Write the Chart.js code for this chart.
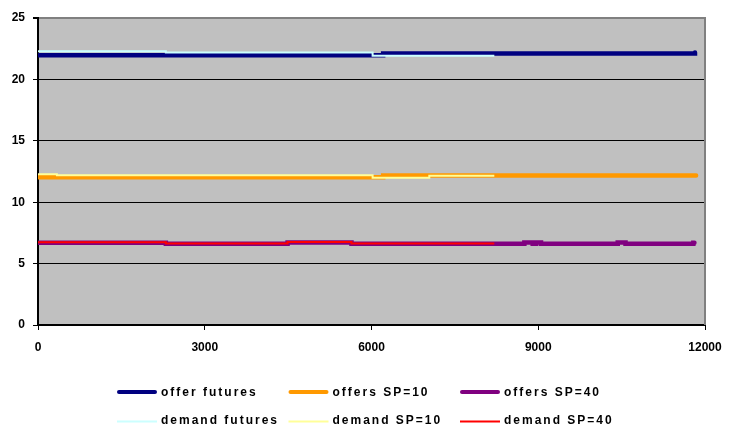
<!DOCTYPE html>
<html>
<head>
<meta charset="utf-8">
<script src="https://cdn.jsdelivr.net/npm/chart.js@4/dist/chart.umd.min.js"></script>
<style>
  html, body { margin: 0; padding: 0; background: #ffffff; }
  canvas { display: block; }
</style>
</head>
<body>
<canvas id="c" width="729" height="431"></canvas>
<script>
// Step series: each [x, y] pair holds its value until the next pair's x.
const offerFutures  = [[0, 21.96], [6210, 22.11], [11780, 22.11], [11820, 22.2]];
const offersSP10    = [[0, 12.04], [6210, 12.17], [11840, 12.17]];
const offersSP40    = [[0, 6.70], [2300, 6.62], [4490, 6.71], [5640, 6.62], [8750, 6.72], [8900, 6.62],
                       [8960, 6.72], [9050, 6.62], [10430, 6.72], [10570, 6.62], [11790, 6.69], [11810, 6.69]];
const demandFutures = [[0, 22.3], [2300, 22.19], [6020, 21.92], [8210, 21.92]];
const demandSP10    = [[0, 12.27], [340, 12.2], [6020, 12.0], [7040, 12.15], [8210, 12.15]];
const demandSP40    = [[0, 6.74], [2300, 6.64], [4490, 6.75], [5640, 6.64], [8210, 6.64]];

const seriesNames = ['offer futures', 'offers SP=10', 'offers SP=40',
                     'demand futures', 'demand SP=10', 'demand SP=40'];

const xTicks = [0, 3000, 6000, 9000, 12000];
const yTicks = [0, 5, 10, 15, 20, 25];

const toPoints = arr => arr.map(([x, y]) => ({ x, y }));

function series(name, data, color, width, isOffer) {
  return {
    label: name,
    data: toPoints(data),
    borderColor: color,
    backgroundColor: color,
    borderWidth: width,
    borderCapStyle: isOffer ? 'round' : 'butt',
    stepped: true,
    pointRadius: 0,
    fill: false,
    order: isOffer ? 1 : 0
  };
}

const datasets = [
  series(seriesNames[0], offerFutures,  '#000080', 4.5, true),
  series(seriesNames[1], offersSP10,    '#FF9900', 4.5, true),
  series(seriesNames[2], offersSP40,    '#800080', 4.5, true),
  series(seriesNames[3], demandFutures, '#CCFFFF', 2, false),
  series(seriesNames[4], demandSP10,    '#FFFF99', 2, false),
  series(seriesNames[5], demandSP40,    '#FF0000', 2, false)
];

const FONT = '"Liberation Sans", Arial, sans-serif';

// Grey plot background plus the grey right-hand frame edge
const plotFrame = {
  id: 'plotFrame',
  beforeDraw(chart) {
    const { ctx, chartArea: a } = chart;
    ctx.save();
    ctx.fillStyle = '#ffffff';
    ctx.fillRect(0, 0, chart.width, chart.height);
    ctx.fillStyle = '#C0C0C0';
    ctx.fillRect(a.left, a.top, a.right - a.left, a.bottom - a.top);
    ctx.restore();
  },
  beforeDatasetsDraw(chart) {
    const { ctx, chartArea: a } = chart;
    ctx.save();
    ctx.strokeStyle = '#808080';
    ctx.lineWidth = 2;
    ctx.beginPath();
    ctx.moveTo(a.right, a.top - 1);
    ctx.lineTo(a.right, a.bottom);
    ctx.stroke();
    ctx.restore();
  }
};

// Legend laid out as a 3-column grid under the axis
const gridLegend = {
  id: 'gridLegend',
  afterDraw(chart) {
    const ctx = chart.ctx;
    ctx.save();
    ctx.font = 'bold 12px ' + FONT;
    if ('letterSpacing' in ctx) ctx.letterSpacing = '2px';
    ctx.textAlign = 'left';
    ctx.textBaseline = 'alphabetic';
    chart.data.datasets.forEach((ds, i) => {
      const col = i % 3, row = Math.floor(i / 3);
      const x0 = 117 + col * 171.5;
      const yLine = row ? 421.5 : 392;
      const yText = row ? 424 : 396;
      ctx.strokeStyle = ds.borderColor;
      ctx.lineWidth = ds.order ? 4 : 2;
      ctx.lineCap = ds.borderCapStyle;
      ctx.beginPath();
      ctx.moveTo(x0 + (ds.order ? 2 : 0), yLine);
      ctx.lineTo(x0 + 40 - (ds.order ? 2 : 0), yLine);
      ctx.stroke();
      ctx.fillStyle = '#000000';
      ctx.fillText(ds.label, x0 + 44, yText);
    });
    ctx.restore();
  }
};

new Chart(document.getElementById('c'), {
  type: 'line',
  data: { datasets },
  plugins: [plotFrame, gridLegend],
  options: {
    responsive: false,
    animation: false,
    events: [],
    layout: { padding: { left: 0, right: 24, top: 18, bottom: 0 } },
    plugins: { legend: { display: false }, tooltip: { enabled: false } },
    scales: {
      x: {
        type: 'linear',
        min: 0,
        max: 12000,
        afterBuildTicks: s => { s.ticks = xTicks.map(v => ({ value: v })); },
        afterFit: s => { s.height = 106; s.paddingLeft = 0; s.paddingRight = 0; },
        ticks: {
          color: '#000000',
          font: { family: FONT, size: 12, weight: 'bold' },
          padding: 10,
          maxRotation: 0,
          autoSkip: false,
          callback: v => String(v)
        },
        grid: { drawOnChartArea: false, tickLength: 5, color: '#000000', lineWidth: 1 },
        border: { color: '#000000', width: 2 }
      },
      y: {
        min: 0,
        max: 25,
        afterBuildTicks: s => { s.ticks = yTicks.map(v => ({ value: v })); },
        afterFit: s => { s.width = 38; },
        ticks: {
          color: '#000000',
          font: { family: FONT, size: 12, weight: 'bold' },
          padding: 8,
          callback: v => String(v)
        },
        grid: {
          color: c => (c.tick && c.tick.value === 25 ? '#808080' : '#000000'),
          lineWidth: c => (c.tick && c.tick.value === 25 ? 2 : 1),
          tickColor: '#000000',
          tickLength: 5
        },
        border: { color: '#000000', width: 2 }
      }
    }
  }
});
</script>
</body>
</html>
